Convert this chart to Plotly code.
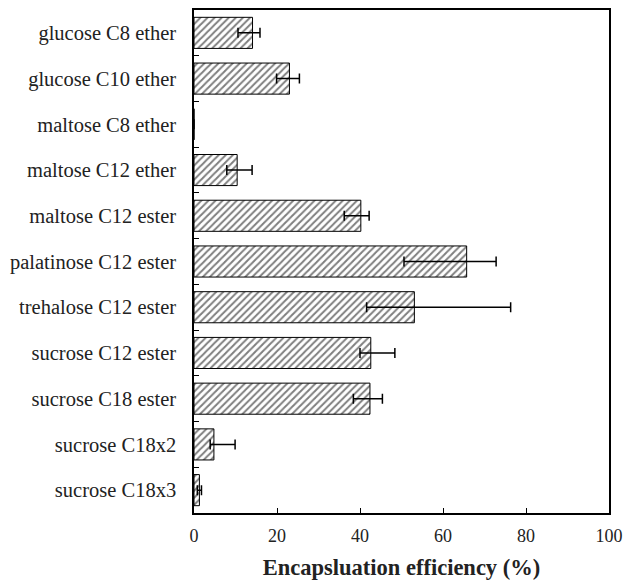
import plotly.graph_objects as go

categories = ["glucose C8 ether", "glucose C10 ether", "maltose C8 ether", "maltose C12 ether",
              "maltose C12 ester", "palatinose C12 ester", "trehalose C12 ester",
              "sucrose C12 ester", "sucrose C18 ester", "sucrose C18x2", "sucrose C18x3"]
efficiency = [14.1, 23.0, 0.0, 10.4, 40.2, 65.7, 53.1, 42.6, 42.4, 4.8, 1.3]
err_plus = [1.8, 2.4, None, 3.6, 2.0, 7.1, 23.2, 5.8, 3.0, 5.1, 0.5]
err_minus = [3.5, 3.1, None, 2.5, 4.0, 15.1, 11.5, 2.6, 4.0, 0.9, 0.5]
x_ticks = [0, 20, 40, 60, 80, 100]

fig = go.Figure()
fig.add_trace(go.Bar(
    y=categories, x=efficiency, orientation="h", width=0.68,
    marker=dict(color="white", line=dict(color="black", width=1),
                pattern=dict(shape="/", fgcolor="black", bgcolor="white", size=5, solidity=0.4)),
    error_x=dict(type="data", symmetric=False, array=err_plus, arrayminus=err_minus,
                 color="black", thickness=1.5, width=5),
    showlegend=False,
))

font_family = "Liberation Serif, Times New Roman, serif"
fig.update_layout(
    width=624, height=585,
    margin=dict(l=194, r=15, t=10, b=72, autoexpand=False),
    paper_bgcolor="white", plot_bgcolor="white",
    font=dict(family=font_family, color="#222", size=18),
    xaxis=dict(range=[0, 100], tickvals=x_ticks, ticks="inside", ticklen=5, tickcolor="black",
               showline=True, linecolor="black", linewidth=1.5, mirror=True, showgrid=False,
               zeroline=False, tickfont=dict(size=18), ticklabelstandoff=6,
               automargin=False, ticklabeloverflow="allow",
               title=dict(text="<b>Encapsluation efficiency (%)</b>", font=dict(size=22.5), standoff=14)),
    yaxis=dict(categoryorder="array", categoryarray=categories[::-1], tickson="boundaries",
               ticks="inside", ticklen=5, tickcolor="black", showline=True, linecolor="black",
               linewidth=1.5, mirror=True, showgrid=False, tickfont=dict(size=20.5),
               ticklabelstandoff=12, automargin=False),
)
fig.write_html("out.html")
